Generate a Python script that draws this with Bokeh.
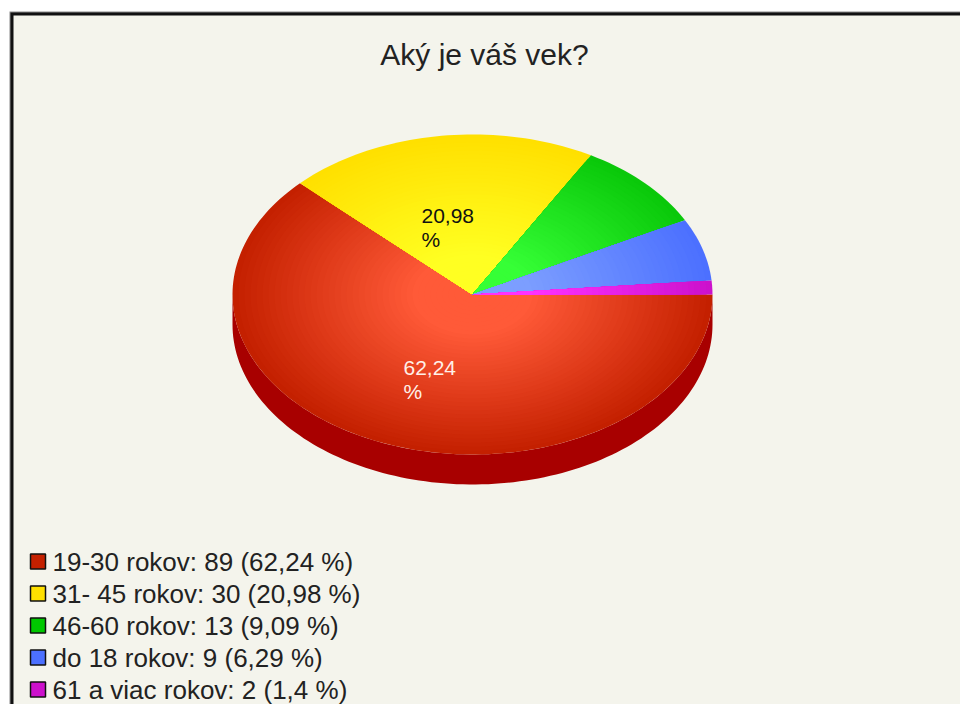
import numpy as np
from bokeh.plotting import figure
from bokeh.models import Range1d
from bokeh.core.properties import value
from bokeh.embed import file_html
from bokeh.resources import INLINE

title = "Aký je váš vek?"
counts = [89, 30, 13, 9, 2]
legend_labels = [
    "19-30 rokov: 89 (62,24 %)",
    "31- 45 rokov: 30 (20,98 %)",
    "46-60 rokov: 13 (9,09 %)",
    "do 18 rokov: 9 (6,29 %)",
    "61 a viac rokov: 2 (1,4 %)",
]
rim_colors = ["#c42000", "#ffe000", "#0ac80a", "#4c70ff", "#cc11cc"]
hub_colors = ["#ff5a38", "#ffff22", "#36ff36", "#7c9eff", "#ff33ff"]
legend_colors = ["#c42000", "#ffe000", "#00c800", "#4c70ff", "#cc11cc"]
slice_labels = ["62,24\n%", "20,98\n%"]
slice_label_colors = ["#fff0e8", "#111111"]
slice_label_pos = [(403, 379), (421, 227)]

BG = "#f4f4ec"
W, H = 960, 704
cx, cy, rx, ry, depth = 472, 294, 240, 160, 30
BANDS = 40

p = figure(width=W, height=H, output_backend="svg", toolbar_location=None,
           x_range=Range1d(0, W), y_range=Range1d(H, 0),
           min_border=0, outline_line_color=None, background_fill_color="white",
           border_fill_color="white")
p.axis.visible = False
p.grid.visible = False

# panel and frame
p.quad(left=[9], right=[W], top=[11], bottom=[H], fill_color="#8a8a8a", line_color=None)
p.quad(left=[10], right=[W], top=[12], bottom=[H], fill_color="#111111", line_color=None)
p.quad(left=[13], right=[W], top=[15], bottom=[H], fill_color=BG, line_color=None)


def hex_rgb(h):
    return np.array([int(h[i:i + 2], 16) for i in (1, 3, 5)], dtype=float)


def arc(a0, a1, sx=1.0, sy=1.0, dy=0.0):
    n = max(int(abs(a1 - a0) / 1.5), 4)
    t = np.radians(np.linspace(a0, a1, n))
    return cx + rx * sx * np.cos(t), cy + dy + ry * sy * np.sin(t)


# angles: clockwise on screen from 3 o'clock (y axis points down)
fractions = np.array(counts) / sum(counts)
edges = np.concatenate([[0], np.cumsum(fractions)]) * 360

# side wall
x0, y0 = arc(0, 180)
x1, y1 = arc(180, 0, dy=depth)
p.patch(np.concatenate([x0, x1]), np.concatenate([y0, y1]), fill_color="#a80000", line_color=None)

# slices with a radial shade built from nested wedges
xs, ys, cols = [], [], []
for i in range(len(counts)):
    rim, hub = hex_rgb(rim_colors[i]), hex_rgb(hub_colors[i])
    for b in range(BANDS):
        s = 1 - b / BANDS
        mix = min(1.0, (1 - s) / 0.75)
        c = rim + (hub - rim) * mix
        ax, ay = arc(edges[i], edges[i + 1], s, s)
        xs.append(np.concatenate([[cx], ax]).tolist())
        ys.append(np.concatenate([[cy], ay]).tolist())
        cols.append("#%02x%02x%02x" % tuple(int(round(v)) for v in c))
p.patches(xs, ys, fill_color=cols, line_color=None)

# labels on the slices
p.text([q[0] for q in slice_label_pos], [q[1] for q in slice_label_pos], text=slice_labels,
       text_color=slice_label_colors, text_font=value("Liberation Sans"),
       text_font_size="21px", text_align="left", text_baseline="middle", text_line_height=1.05)

# title
p.text([484], [54], text=[title], text_font=value("Liberation Sans"), text_font_size="30px",
       text_color="#222222", text_align="center", text_baseline="middle")

# legend
row_y = [561 + 32 * i for i in range(len(legend_labels))]
p.rect([37.5] * len(row_y), row_y, width=15, height=15, fill_color=legend_colors,
       line_color="#111111", line_width=1.5)
p.text([52] * len(row_y), row_y, text=legend_labels, text_font=value("Liberation Sans"),
       text_font_size="26px", text_color="#222222", text_align="left", text_baseline="middle")

open("out.html", "w").write(file_html(p, INLINE))
